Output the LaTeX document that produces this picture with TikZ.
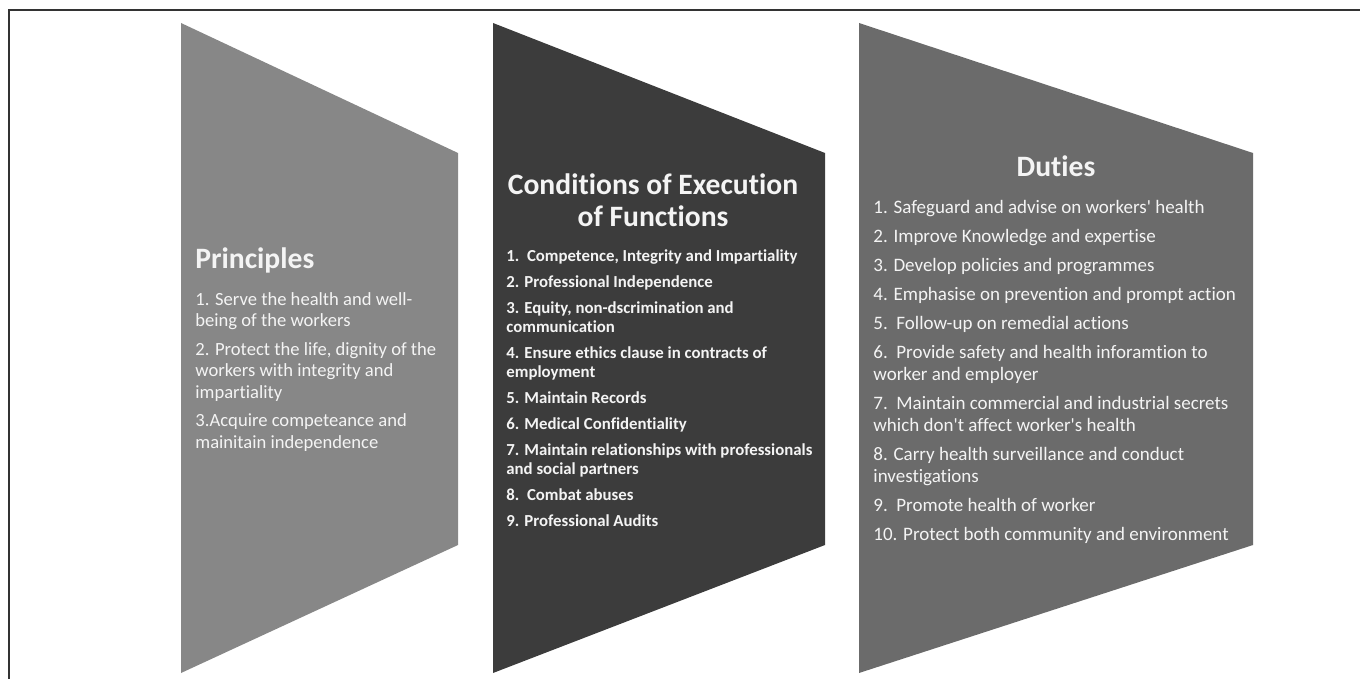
\documentclass[tikz,border=0pt]{standalone}
\usepackage{fontspec}
\setmainfont{Carlito}[Ligatures={TeX,NoCommon}]
\usetikzlibrary{positioning}
\definecolor{lightpanel}{HTML}{878787}
\definecolor{darkpanel}{HTML}{3C3C3C}
\definecolor{midpanel}{HTML}{6B6B6B}
\definecolor{paneltext}{HTML}{F4F4F4}
\definecolor{framegray}{HTML}{333333}
\tikzset{
  heading/.style={text=paneltext, inner sep=0pt, font=\bfseries\fontsize{14.8}{16}\selectfont},
  pointlist/.style={text=paneltext, inner sep=0pt, align=left, anchor=north west}
}
\begin{document}
\begin{tikzpicture}[x=0.5pt, y=-0.5pt]
  \useasboundingbox (0,0) rectangle (1360,679);
  % Rahmen
  \draw [framegray, line width=1pt] (9,679) -- (9,10) -- (1360,10);
  % Linker Kasten
  \fill [lightpanel] (181,23) -- (458,153) -- (458,545) -- (181,673) -- cycle;
  \node [heading, anchor=base west] (ptitle) at (195,269) {Principles};
  \node [pointlist, font=\fontsize{9.3}{10.75}\selectfont] (plist) at (195,292) {%
    1. Serve the health and well-\\
    being of the workers\\[3.5pt]
    2. Protect the life, dignity of the\\
    workers with integrity and\\
    impartiality\\[3.5pt]
    3.Acquire competeance and\\
    mainitain independence};
  % Mittlerer Kasten
  \fill [darkpanel] (493,23) -- (825,153) -- (825,545) -- (493,673) -- cycle;
  \node [heading, align=center, anchor=base] (ctitle) at (653,227) {Conditions of Execution\\of Functions};
  \node [pointlist, font=\bfseries\fontsize{8.4}{9.5}\selectfont] (clist) at (506,249) {%
    1.\ \ Competence, Integrity and Impartiality\\[3.5pt]
    2. Professional Independence\\[3.5pt]
    3. Equity, non-dscrimination and\\
    communication\\[3.5pt]
    4. Ensure ethics clause in contracts of\\
    employment\\[3.5pt]
    5. Maintain Records\\[3.5pt]
    6. Medical Confidentiality\\[3.5pt]
    7. Maintain relationships with professionals\\
    and social partners\\[3.5pt]
    8.\ \ Combat abuses\\[3.5pt]
    9. Professional Audits};
  % Rechter Kasten
  \fill [midpanel] (859,23) -- (1253,153) -- (1253,545) -- (859,673) -- cycle;
  \node [heading, anchor=base] (dtitle) at (1056,177) {Duties};
  \node [pointlist, font=\fontsize{9.5}{11}\selectfont] (dlist) at (873,200) {%
    1. Safeguard and advise on workers\textquotesingle\ health\\[3.5pt]
    2. Improve Knowledge and expertise\\[3.5pt]
    3. Develop policies and programmes\\[3.5pt]
    4. Emphasise on prevention and prompt action\\[3.5pt]
    5.\ \ Follow-up on remedial actions\\[3.5pt]
    6.\ \ Provide safety and health inforamtion to\\
    worker and employer\\[3.5pt]
    7.\ \ Maintain commercial and industrial secrets\\
    which don\textquotesingle t affect worker\textquotesingle s health\\[3.5pt]
    8. Carry health surveillance and conduct\\
    investigations\\[3.5pt]
    9.\ \ Promote health of worker\\[3.5pt]
    10. Protect both community and environment};
\end{tikzpicture}
\end{document}
